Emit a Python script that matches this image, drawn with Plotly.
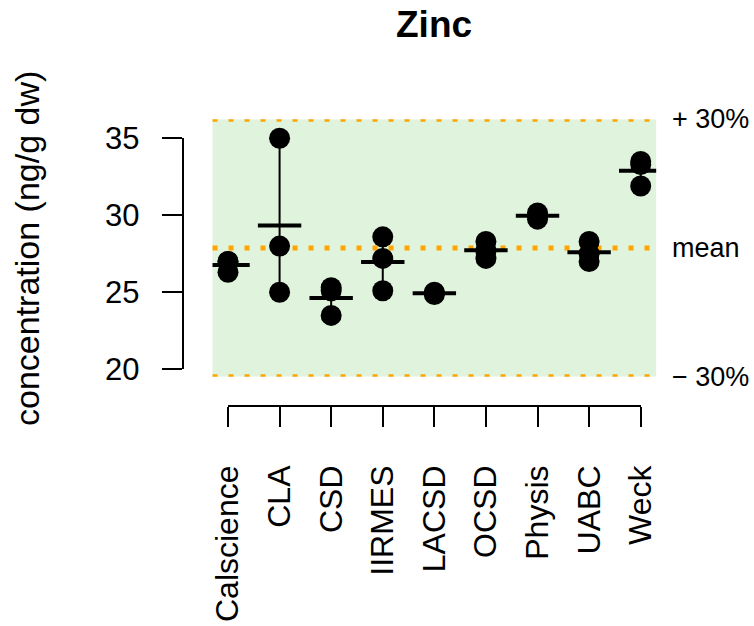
import numpy as np
import plotly.graph_objects as go

# Zinc results, three replicates per laboratory (ng/g dw)
labs = ["Calscience", "CLA", "CSD", "IIRMES", "LACSD", "OCSD", "Physis", "UABC", "Weck"]
rep1 = [27.0, 35.0, 25.3, 28.6, 25.0, 28.3, 30.15, 28.3, 33.5]
rep2 = [27.0, 28.0, 25.1, 27.2, 24.95, 27.7, 30.0, 27.5, 33.3]
rep3 = [26.3, 25.0, 23.5, 25.1, 24.85, 27.2, 29.75, 27.0, 31.9]
y_ticks = [20, 25, 30, 35]

W, H = 754, 626
FONT = "Liberation Sans, Arial, Helvetica, sans-serif"

reps = np.array([rep1, rep2, rep3])
lab_mean = reps.mean(axis=0)
lab_min = reps.min(axis=0)
lab_max = reps.max(axis=0)
grand = lab_mean.mean()
lo, hi = 0.7 * grand, 1.3 * grand
pos = np.arange(1, len(labs) + 1)

# pixel anchors of the drawn axes (base-graphics style detached axes)
PX_X1, PX_XN = 228.0, 640.7
PX_Y20, PX_Y35 = 369.3, 138.3
AXIS_LINE_X = 182.7
AXIS_LINE_Y = 405.7

x_lo, x_hi = 0.7, len(labs) + 0.3
sx = (PX_XN - PX_X1) / (len(labs) - 1)
sy = (PX_Y20 - PX_Y35) / (y_ticks[-1] - y_ticks[0])

def fx(px):
    return px / W

def fy(px):
    return 1 - px / H

main_x_dom = [fx(PX_X1 - (1 - x_lo) * sx), fx(PX_XN + (x_hi - len(labs)) * sx)]
main_y_dom = [fy(PX_Y20 + (y_ticks[0] - lo) * sy), fy(PX_Y35 - (hi - y_ticks[-1]) * sy)]

fig = go.Figure()

# vertical range line for each laboratory
ex, ey = [], []
for p, a, b in zip(pos, lab_min, lab_max):
    ex += [p, p, None]
    ey += [a, b, None]
fig.add_trace(go.Scatter(x=ex, y=ey, mode="lines",
                         line=dict(color="black", width=2),
                         hoverinfo="skip", showlegend=False))

# replicate values
for r in reps:
    fig.add_trace(go.Scatter(x=pos, y=r, mode="markers",
                             marker=dict(color="black", size=21, line=dict(width=0)),
                             showlegend=False))

# laboratory means
fig.add_trace(go.Scatter(x=pos, y=lab_mean, mode="markers",
                         marker=dict(symbol="line-ew", size=31,
                                     line=dict(color="black", width=4)),
                         showlegend=False))

# placeholder so the display axes form their own subplot
fig.add_trace(go.Scatter(x=[], y=[], xaxis="x2", yaxis="y2",
                         showlegend=False, hoverinfo="skip"))

# acceptance band and reference lines
fig.add_shape(type="rect", xref="x domain", yref="y", x0=0, x1=1, y0=lo, y1=hi,
              fillcolor="#e0f3dc", line=dict(width=0), layer="below")
for v in (hi, grand, lo):
    fig.add_shape(type="line", xref="x domain", yref="y", x0=0, x1=1, y0=v, y1=v,
                  line=dict(color="#ffa500", width=5, dash="5px,11px"), layer="below")

for text, v in (("+ 30%", hi), ("mean", grand), ("\u2212 30%", lo)):
    fig.add_annotation(text=text, xref="paper", yref="y", x=fx(670), y=v,
                       xanchor="left", yanchor="middle", showarrow=False,
                       font=dict(family=FONT, size=27, color="black"))

fig.add_annotation(text="concentration (ng/g dw)", textangle=-90,
                   xref="paper", yref="paper", x=fx(27), y=fy(249),
                   xanchor="center", yanchor="middle", showarrow=False,
                   font=dict(family=FONT, size=34, color="black"))

fig.add_annotation(text="<b>Zinc</b>", xref="paper", yref="paper",
                   x=fx(434), y=fy(24), xanchor="center", yanchor="middle",
                   showarrow=False, font=dict(family=FONT, size=37, color="black"))

hidden = dict(showticklabels=False, showline=False, showgrid=False,
              zeroline=False, ticks="")

fig.update_layout(
    width=W, height=H,
    margin=dict(l=0, r=0, t=0, b=0, pad=0, autoexpand=False),
    paper_bgcolor="white",
    plot_bgcolor="rgba(0,0,0,0)",
    font=dict(family=FONT, color="black"),
    showlegend=False,
    xaxis=dict(domain=main_x_dom, range=[x_lo, x_hi], type="linear", **hidden),
    yaxis=dict(domain=main_y_dom, range=[lo, hi], type="linear", **hidden),
    xaxis2=dict(domain=[fx(PX_X1), fx(PX_XN)], range=[1, len(labs)], type="linear",
                anchor="free", position=fy(AXIS_LINE_Y),
                tickvals=list(pos), ticktext=labs, tickangle=-90,
                ticks="outside", ticklen=20, tickwidth=2, tickcolor="black",
                showline=True, linecolor="black", linewidth=2,
                showgrid=False, zeroline=False, ticklabelstandoff=26,
                automargin=False,
                tickfont=dict(family=FONT, size=32, color="black")),
    yaxis2=dict(domain=[fy(PX_Y20), fy(PX_Y35)], range=[y_ticks[0], y_ticks[-1]],
                type="linear", anchor="free", position=fx(AXIS_LINE_X),
                tickvals=y_ticks, ticks="outside", ticklen=20, tickwidth=2,
                tickcolor="black", showline=True, linecolor="black", linewidth=2,
                showgrid=False, zeroline=False, ticklabelstandoff=16,
                automargin=False,
                tickfont=dict(family=FONT, size=31, color="black")),
)

fig.write_html("out.html")
